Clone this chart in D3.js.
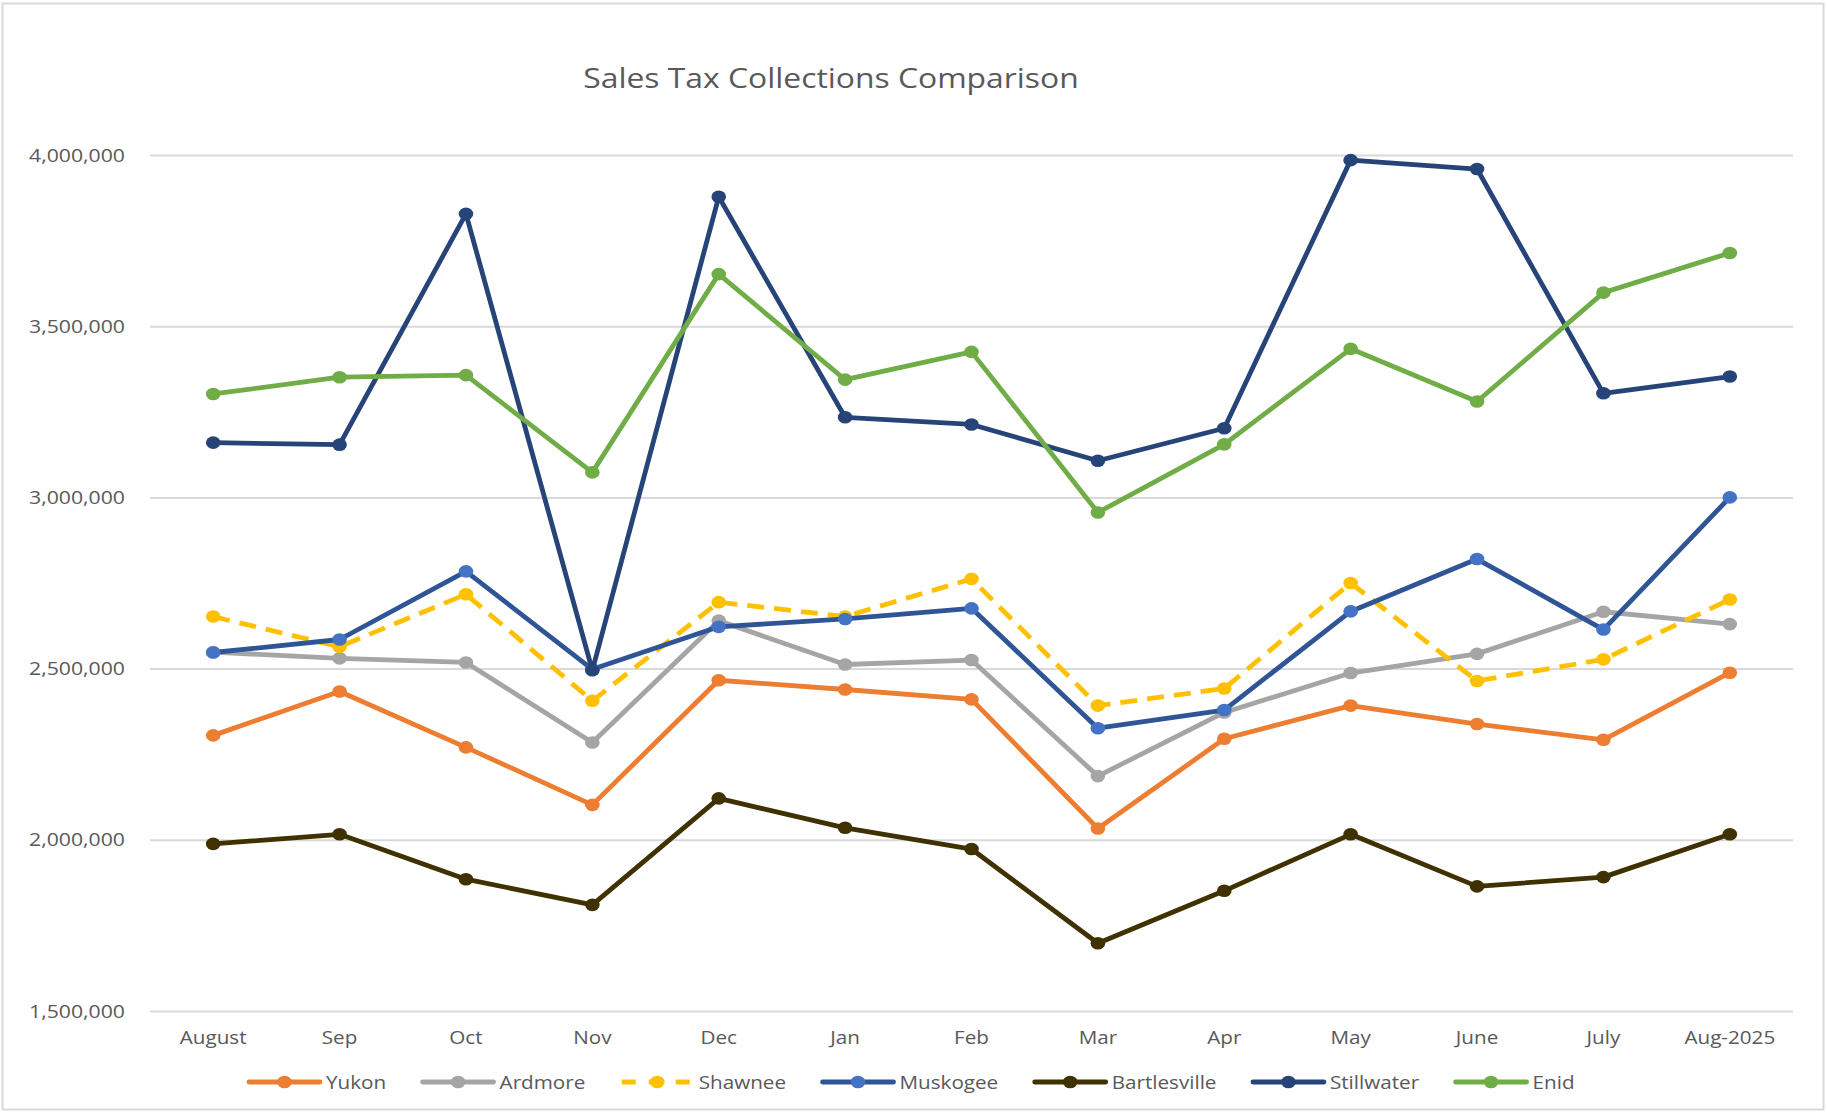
<!DOCTYPE html>
<html>
<head>
<meta charset="utf-8">
<script src="https://cdn.jsdelivr.net/npm/d3@7/dist/d3.min.js"></script>
<style>
  html, body { margin: 0; padding: 0; background: #ffffff; }
  svg { display: block; }
  text { font-family: "Open Sans", "DejaVu Sans", sans-serif; fill: #595959; }
</style>
</head>
<body>
<svg id="chart" width="1827" height="1113"></svg>
<script>
// ---------- data ----------
const categories = ["August", "Sep", "Oct", "Nov", "Dec", "Jan", "Feb", "Mar", "Apr", "May", "June", "July", "Aug-2025"];
const yTicks = [1500000, 2000000, 2500000, 3000000, 3500000, 4000000];

const yukon        = [2305000, 2433000, 2270000, 2102000, 2466000, 2439000, 2410000, 2033000, 2295000, 2392000, 2338000, 2292000, 2488000];
const ardmore      = [2548000, 2530000, 2518000, 2284000, 2640000, 2512000, 2525000, 2186000, 2372000, 2487000, 2543000, 2666000, 2630000];
const shawnee      = [2652000, 2564000, 2717000, 2406000, 2694000, 2652000, 2762000, 2392000, 2442000, 2750000, 2464000, 2527000, 2702000];
const muskogee     = [2547000, 2585000, 2784000, 2498000, 2622000, 2645000, 2676000, 2326000, 2379000, 2667000, 2820000, 2614000, 3000000];
const bartlesville = [1988000, 2016000, 1885000, 1810000, 2121000, 2035000, 1973000, 1698000, 1851000, 2016000, 1864000, 1891000, 2016000];
const stillwater   = [3160000, 3154000, 3828000, 2495000, 3878000, 3234000, 3213000, 3107000, 3202000, 3985000, 3959000, 3304000, 3353000];
const enid         = [3302000, 3351000, 3357000, 3073000, 3652000, 3344000, 3425000, 2956000, 3155000, 3434000, 3280000, 3598000, 3714000];

const seriesNames = ["Yukon", "Ardmore", "Shawnee", "Muskogee", "Bartlesville", "Stillwater", "Enid"];
const seriesValues = [yukon, ardmore, shawnee, muskogee, bartlesville, stillwater, enid];

// ---------- styles ----------
const lineColors   = ["#ED7D31", "#A5A5A5", "#FFC000", "#2F5597", "#3F3100", "#264478", "#70AD47"];
const markerColors = ["#ED7D31", "#A5A5A5", "#FFC000", "#4472C4", "#3F3100", "#264478", "#70AD47"];
const dashes       = [null, null, "17,10", null, null, null, null];

const SX = 1.18; // horizontal text stretch of the reference
const svg = d3.select("#chart");

const margin = { left: 150, right: 1793, top: 155, bottom: 1011 };

const x = d3.scalePoint().domain(categories).range([margin.left, margin.right]).padding(0.5);
const y = d3.scaleLinear().domain([1500000, 4000000]).range([margin.bottom, margin.top]);

function stretchedText(parent, tx, ty, str, size, anchor) {
  const g = parent.append("g").attr("transform", `translate(${tx},${ty}) scale(${SX},1)`);
  return g.append("text")
    .attr("x", 0).attr("y", 0)
    .attr("text-anchor", anchor || "start")
    .style("font-size", size + "px")
    .text(str);
}

// frame
svg.append("rect")
  .attr("x", 2.5).attr("y", 3.5).attr("width", 1821).attr("height", 1106)
  .attr("fill", "#ffffff").attr("stroke", "#d9d9d9").attr("stroke-width", 2);

// title
stretchedText(svg, 831, 88, "Sales Tax Collections Comparison", 27, "middle");

// gridlines
const yAxis = d3.axisLeft(y).tickValues(yTicks).tickSize(-(margin.right - margin.left)).tickFormat("");
const gGrid = svg.append("g").attr("transform", `translate(${margin.left},0)`).call(yAxis);
gGrid.select(".domain").remove();
gGrid.selectAll(".tick line").attr("stroke", "#d9d9d9").attr("stroke-width", 2);

// y labels
const fmt = d3.format(",");
yTicks.forEach(v => {
  stretchedText(svg, 125, y(v) + 6.5, fmt(v), 18, "end");
});

// x labels
categories.forEach(c => {
  stretchedText(svg, x(c), 1044, c, 17.5, "middle");
});

// series
const line = d3.line().x((d, i) => x(categories[i])).y(d => y(d));
const gSeries = svg.append("g");
seriesValues.forEach((vals, si) => {
  const g = gSeries.append("g");
  g.append("path")
    .datum(vals)
    .attr("d", line)
    .attr("fill", "none")
    .attr("stroke", lineColors[si])
    .attr("stroke-width", 4.8)
    .attr("stroke-linejoin", "round")
    .attr("stroke-linecap", dashes[si] ? "butt" : "round")
    .attr("stroke-dasharray", dashes[si]);
  g.selectAll("ellipse")
    .data(vals)
    .enter().append("ellipse")
    .attr("cx", (d, i) => x(categories[i]))
    .attr("cy", d => y(d))
    .attr("rx", 7.3)
    .attr("ry", 6.3)
    .attr("fill", markerColors[si]);
});

// legend
const legendY = 1082;
let lx = 249;
const gLeg = svg.append("g");
seriesNames.forEach((name, si) => {
  const g = gLeg.append("g");
  g.append("line")
    .attr("x1", lx).attr("x2", lx + 71)
    .attr("y1", legendY).attr("y2", legendY)
    .attr("stroke", lineColors[si]).attr("stroke-width", 4.8)
    .attr("stroke-linecap", dashes[si] ? "butt" : "round")
    .attr("stroke-dasharray", dashes[si] ? "14,13" : null);
  g.append("ellipse")
    .attr("cx", lx + 35.5).attr("cy", legendY)
    .attr("rx", 7.3).attr("ry", 6.3)
    .attr("fill", markerColors[si]);
  const t = stretchedText(g, lx + 77, legendY + 6.5, name, 17.5, "start");
  const w = t.node().getComputedTextLength() * SX;
  lx = lx + 77 + w + 36.5;
});
</script>
</body>
</html>
